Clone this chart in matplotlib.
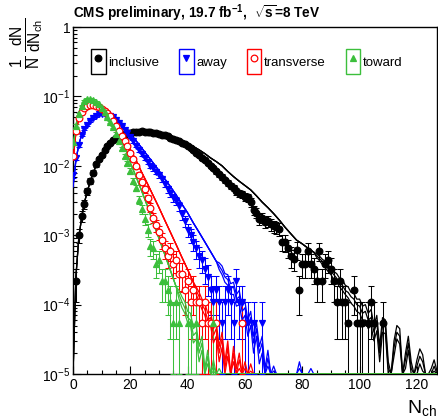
import numpy as np
import matplotlib
matplotlib.use("Agg")
import matplotlib.pyplot as plt
from matplotlib.patches import Rectangle
from matplotlib.lines import Line2D
from matplotlib.ticker import MultipleLocator, FixedLocator, FixedFormatter, LogLocator, NullFormatter

plt.rcParams['font.family'] = ['Liberation Sans', 'DejaVu Sans']
plt.rcParams['mathtext.fontset'] = 'custom'
plt.rcParams['mathtext.rm'] = 'Liberation Sans'
plt.rcParams['mathtext.it'] = 'Liberation Sans:italic'
plt.rcParams['mathtext.bf'] = 'Liberation Sans:bold'

# ---- data ----
# one event corresponds to ~5.5e-5 (lowest populated bins)
stat_unit = 5.5e-5

incl_n = list(range(1, 96)) + [96, 98, 99, 100, 101, 103, 104, 105, 108]
incl_y = [2.2e-4, 1.0e-3, 1.9e-3, 2.8e-3, 4.3e-3, 6.0e-3, 8.0e-3, 1.05e-2, 1.25e-2, 1.45e-2,
          1.7e-2, 1.95e-2, 2.15e-2, 2.35e-2, 2.5e-2, 2.65e-2, 2.75e-2, 2.85e-2, 2.95e-2, 3.0e-2,
          3.05e-2, 3.1e-2, 3.1e-2, 3.15e-2, 3.1e-2, 3.1e-2, 3.05e-2, 3.0e-2, 2.95e-2, 2.9e-2,
          2.8e-2, 2.75e-2, 2.65e-2, 2.55e-2, 2.45e-2, 2.35e-2, 2.25e-2, 2.15e-2, 2.05e-2, 1.95e-2,
          1.8e-2, 1.7e-2, 1.55e-2, 1.45e-2, 1.3e-2, 1.2e-2, 1.1e-2, 1.0e-2, 9.3e-3, 8.4e-3,
          7.6e-3, 6.9e-3, 6.2e-3, 5.6e-3, 5.2e-3, 4.8e-3, 4.3e-3, 4.0e-3, 3.9e-3, 3.6e-3,
          3.5e-3, 3.0e-3, 2.3e-3, 2.1e-3, 1.7e-3, 1.8e-3, 1.55e-3, 1.6e-3, 1.45e-3, 1.35e-3,
          1.3e-3, 1.25e-3, 8.1e-4, 7.9e-4, 6.6e-4, 5.0e-4, 4.6e-4, 6.2e-4, 1.65e-4, 3.9e-4,
          3.9e-4, 6.0e-4, 3.85e-4, 3.3e-4, 2.2e-4, 6.0e-4, 2.2e-4, 3.85e-4, 4.4e-4, 3.3e-4,
          2.2e-4, 1.1e-4, 2.2e-4, 1.1e-4, 1.1e-4,
          5.5e-5, 1.65e-4, 5.5e-5, 5.5e-5, 5.5e-5, 5.5e-5, 1.1e-4, 5.5e-5, 5.5e-5]

away_n = list(range(0, 62)) + [63, 66]
away_y = [7.4e-3, 1.3e-2, 2.0e-2, 2.8e-2, 3.4e-2, 3.9e-2, 4.4e-2, 4.9e-2, 5.2e-2, 5.5e-2,
          5.6e-2, 5.6e-2, 5.5e-2, 5.2e-2, 5.0e-2, 4.6e-2, 4.2e-2, 3.7e-2, 3.3e-2, 2.95e-2,
          2.6e-2, 2.25e-2, 1.95e-2, 1.7e-2, 1.5e-2, 1.3e-2, 1.15e-2, 1.0e-2, 9.2e-3, 8.2e-3,
          7.4e-3, 6.4e-3, 5.5e-3, 4.6e-3, 4.0e-3, 3.5e-3, 3.1e-3, 2.6e-3, 2.0e-3, 1.6e-3,
          1.2e-3, 1.0e-3, 8.0e-4, 6.5e-4, 5.0e-4, 4.4e-4, 3.3e-4, 2.5e-4, 1.65e-4, 1.1e-4,
          1.65e-4, 1.1e-4, 5.5e-5, 1.1e-4, 1.65e-4, 1.1e-4, 5.5e-5, 2.2e-4, 1.1e-4, 1.1e-4,
          5.5e-5, 5.5e-5, 5.5e-5, 5.5e-5]

trans_n = list(range(0, 49)) + [50, 59]
trans_y = [1.4e-2, 3.2e-2, 4.9e-2, 6.0e-2, 6.9e-2, 7.4e-2, 7.6e-2, 7.6e-2, 7.4e-2, 7.1e-2,
           6.7e-2, 6.2e-2, 5.7e-2, 5.2e-2, 4.5e-2, 3.8e-2, 3.2e-2, 2.7e-2, 2.3e-2, 1.9e-2,
           1.55e-2, 1.25e-2, 1.0e-2, 7.5e-3, 5.8e-3, 4.6e-3, 3.4e-3, 2.5e-3, 1.8e-3, 1.4e-3,
           1.1e-3, 8.5e-4, 6.5e-4, 5.0e-4, 6.0e-4, 3.9e-4, 4.4e-4, 2.75e-4, 2.8e-4, 1.65e-4,
           2.2e-4, 1.1e-4, 1.65e-4, 1.1e-4, 1.1e-4, 5.5e-5, 1.1e-4, 5.5e-5, 5.5e-5,
           5.5e-5, 5.5e-5]

tow_n = list(range(0, 38)) + [40, 41, 43, 49]
tow_y = [2.2e-2, 3.8e-2, 5.6e-2, 7.4e-2, 8.6e-2, 9.3e-2, 9.3e-2, 8.9e-2, 8.3e-2, 7.7e-2,
         6.9e-2, 6.0e-2, 5.1e-2, 4.3e-2, 3.6e-2, 2.9e-2, 2.3e-2, 1.8e-2, 1.4e-2, 1.1e-2,
         8.5e-3, 6.0e-3, 4.8e-3, 3.2e-3, 2.4e-3, 1.7e-3, 1.2e-3, 7.0e-4, 6.5e-4, 3.9e-4,
         4.4e-4, 2.2e-4, 2.2e-4, 1.65e-4, 1.1e-4, 5.5e-5, 1.1e-4, 5.5e-5,
         5.5e-5, 5.5e-5, 5.5e-5, 5.5e-5]

# ---- model curves (three generator tunes); common part + three tails ----
incl_mc_n = [0, 1, 2, 3, 4] + list(range(6, 85, 2))
incl_mc = [0, 2.5e-4, 9e-4, 1.8e-3, 3.0e-3, 6.0e-3, 1.0e-2, 1.45e-2, 1.9e-2, 2.3e-2,
           2.6e-2, 2.85e-2, 3.0e-2, 3.1e-2, 3.15e-2, 3.1e-2, 3.05e-2, 2.95e-2, 2.85e-2, 2.7e-2,
           2.5e-2, 2.3e-2, 2.1e-2, 1.9e-2, 1.7e-2, 1.5e-2, 1.3e-2, 1.15e-2, 1.0e-2, 8.3e-3,
           7.0e-3, 6.0e-3, 5.2e-3, 4.5e-3, 3.7e-3, 3.0e-3, 2.5e-3, 2.05e-3, 1.65e-3, 1.3e-3,
           1.05e-3, 8.5e-4, 7.5e-4, 6.5e-4, 5.7e-4]
incl_tail_n = list(range(85, 128))
incl_tail_a = [5.4e-4, 5.0e-4, 4.5e-4, 4.2e-4, 3.7e-4, 3.4e-4, 3.0e-4, 2.8e-4, 2.4e-4, 2.3e-4,
               1.9e-4, 1.8e-4, 1.5e-4, 1.45e-4, 1.2e-4, 1.2e-4, 9.5e-5, 1.0e-4, 7.5e-5, 8.5e-5,
               5e-5, 7e-5, 2.5e-5, 6.5e-5, 6e-5, 1.5e-5, 0, 3e-5, 5e-5, 4.5e-5,
               0, 2e-5, 3.5e-5, 1.5e-5, 0, 1.6e-5, 2.3e-5, 1.9e-5, 0, 0,
               1.2e-5, 1.6e-5, 1.1e-5]
incl_tail_b = [5.1e-4, 4.6e-4, 4.2e-4, 3.8e-4, 3.3e-4, 3.0e-4, 2.7e-4, 2.4e-4, 2.1e-4, 1.9e-4,
               1.6e-4, 1.5e-4, 1.3e-4, 1.2e-4, 1.0e-4, 9.5e-5, 7.5e-5, 8e-5, 6e-5, 6.5e-5,
               4e-5, 5.5e-5, 2e-5, 5e-5, 4.8e-5, 1.2e-5, 0, 2.4e-5, 4e-5, 3.5e-5,
               0, 1.6e-5, 2.8e-5, 1.2e-5, 0, 1.3e-5, 1.8e-5, 1.5e-5, 0, 0,
               0, 1.3e-5, 0]
incl_tail_c = [4.8e-4, 4.3e-4, 3.8e-4, 3.4e-4, 3.0e-4, 2.7e-4, 2.3e-4, 2.1e-4, 1.8e-4, 1.6e-4,
               1.4e-4, 1.25e-4, 1.05e-4, 9.5e-5, 8e-5, 7.5e-5, 6e-5, 6e-5, 4.5e-5, 5e-5,
               3e-5, 4.2e-5, 1.5e-5, 4e-5, 3.8e-5, 0, 0, 1.8e-5, 3.2e-5, 2.7e-5,
               0, 1.2e-5, 2.2e-5, 0, 0, 0, 1.4e-5, 1.1e-5, 0, 0,
               0, 1.1e-5, 0]

away_mc_n = [0, 1, 2, 3, 4] + list(range(6, 51, 2))
away_mc = [5e-3, 1.2e-2, 2.0e-2, 2.8e-2, 3.5e-2, 4.6e-2, 5.4e-2, 5.7e-2, 5.6e-2, 5.1e-2,
           4.4e-2, 3.6e-2, 2.9e-2, 2.3e-2, 1.8e-2, 1.4e-2, 1.1e-2, 8.5e-3, 6.5e-3, 5.0e-3,
           3.8e-3, 2.8e-3, 2.1e-3, 1.5e-3, 1.1e-3, 8e-4, 5.8e-4, 4.2e-4]
away_tail_n = list(range(51, 85)) + [127]
away_tail_a = [4.0e-4, 3.6e-4, 2.8e-4, 2.7e-4, 2.0e-4, 2.1e-4, 1.4e-4, 1.6e-4, 9.5e-5, 1.1e-4,
               6e-5, 8e-5, 3.5e-5, 5.5e-5, 2.5e-5, 3.5e-5, 1.2e-5, 2.2e-5, 0, 1.3e-5,
               0, 0, 0, 0, 0, 0, 0, 0, 1.5e-5, 0,
               0, 0, 1.2e-5, 0, 0]
away_tail_b = [3.6e-4, 3.1e-4, 2.5e-4, 2.3e-4, 1.7e-4, 1.8e-4, 1.2e-4, 1.3e-4, 8e-5, 9e-5,
               5e-5, 6.5e-5, 2.8e-5, 4.5e-5, 2e-5, 2.8e-5, 0, 1.7e-5, 0, 1.1e-5,
               0, 0, 0, 0, 0, 0, 0, 0, 1.2e-5, 0,
               0, 0, 0, 0, 0]
away_tail_c = [3.2e-4, 2.7e-4, 2.1e-4, 1.9e-4, 1.4e-4, 1.4e-4, 9.5e-5, 1.0e-4, 6e-5, 7e-5,
               3.5e-5, 5e-5, 2e-5, 3.5e-5, 1.4e-5, 2e-5, 0, 1.3e-5, 0, 0,
               0, 0, 0, 0, 0, 0, 0, 0, 0, 0,
               0, 0, 0, 0, 0]

trans_mc_n = list(range(0, 9)) + list(range(10, 43, 2))
trans_mc = [1.2e-2, 3.0e-2, 4.8e-2, 6.2e-2, 7.2e-2, 7.8e-2, 8.0e-2, 7.9e-2, 7.6e-2, 6.7e-2,
            5.6e-2, 4.4e-2, 3.3e-2, 2.4e-2, 1.7e-2, 1.2e-2, 8e-3, 5.5e-3, 3.7e-3, 2.5e-3,
            1.65e-3, 1.1e-3, 7.3e-4, 4.8e-4, 3.2e-4, 2.1e-4]
trans_tail_n = list(range(43, 64)) + [127]
trans_tail_a = [1.8e-4, 1.5e-4, 1.2e-4, 1.05e-4, 7.5e-5, 8e-5, 4.5e-5, 5.5e-5, 2.5e-5, 4e-5,
                1.5e-5, 3e-5, 0, 2.5e-5, 1.2e-5, 2e-5, 0, 1.5e-5, 0, 1.4e-5,
                0, 0]
trans_tail_b = [1.6e-4, 1.3e-4, 1.0e-4, 8.5e-5, 6e-5, 6.5e-5, 3.6e-5, 4.5e-5, 2e-5, 3.2e-5,
                1.2e-5, 2.4e-5, 0, 2e-5, 0, 1.6e-5, 0, 1.2e-5, 0, 1.1e-5,
                0, 0]
trans_tail_c = [1.4e-4, 1.1e-4, 8.5e-5, 7e-5, 5e-5, 5e-5, 2.8e-5, 3.5e-5, 1.5e-5, 2.4e-5,
                0, 1.8e-5, 0, 1.5e-5, 0, 1.2e-5, 0, 0, 0, 0,
                0, 0]

tow_mc_n = list(range(0, 9)) + list(range(10, 37, 2))
tow_mc = [1.8e-2, 3.8e-2, 5.8e-2, 7.5e-2, 8.7e-2, 9.2e-2, 9.2e-2, 8.8e-2, 8.2e-2, 6.8e-2,
          5.3e-2, 3.9e-2, 2.8e-2, 1.9e-2, 1.1e-2, 7.0e-3, 4.3e-3, 2.6e-3, 1.5e-3, 9e-4,
          5.3e-4, 3.1e-4, 1.8e-4]
tow_tail_n = list(range(37, 53)) + [127]
tow_tail_a = [1.6e-4, 1.3e-4, 1.1e-4, 8e-5, 7.5e-5, 4.5e-5, 5e-5, 2.5e-5, 3.5e-5, 1.2e-5,
              2.2e-5, 0, 1.6e-5, 0, 1.2e-5, 0, 0]
tow_tail_b = [1.4e-4, 1.1e-4, 9e-5, 6.5e-5, 6e-5, 3.6e-5, 4e-5, 2e-5, 2.8e-5, 0,
              1.8e-5, 0, 1.3e-5, 0, 0, 0, 0]
tow_tail_c = [1.2e-4, 9e-5, 7.5e-5, 5.5e-5, 5e-5, 2.8e-5, 3.2e-5, 1.5e-5, 2.2e-5, 0,
              1.4e-5, 0, 1.1e-5, 0, 0, 0, 0]

labels = ['inclusive', 'away', 'transverse', 'toward']
colors = ['black', '#0000ff', '#ff0000', '#3cbf3c']
markers = ['o', 'v', 'o', '^']
filled = [True, True, False, True]

series = [
    (incl_n, incl_y, incl_mc_n, incl_mc, incl_tail_n, [incl_tail_a, incl_tail_b, incl_tail_c]),
    (away_n, away_y, away_mc_n, away_mc, away_tail_n, [away_tail_a, away_tail_b, away_tail_c]),
    (trans_n, trans_y, trans_mc_n, trans_mc, trans_tail_n, [trans_tail_a, trans_tail_b, trans_tail_c]),
    (tow_n, tow_y, tow_mc_n, tow_mc, tow_tail_n, [tow_tail_a, tow_tail_b, tow_tail_c]),
]

ymin, ymax = 1e-5, 1.0

fig = plt.figure(figsize=(4.38, 4.19), dpi=100)
ax = fig.add_axes([0.1667, 0.1074, 0.831, 0.828])
ax.set_yscale('log')

for (dn, dy, mn, my, tn, tails), col, mk, fl in zip(series, colors, markers, filled):
    dy = np.array(dy)
    err = np.sqrt(dy * stat_unit)
    lo = np.minimum(err, dy - ymin * 0.999)
    ax.errorbar(dn, dy, yerr=[lo, err], fmt='none', ecolor=col, elinewidth=0.75,
                capsize=2.2, capthick=0.75, zorder=3)
    for t in tails:
        x = mn + tn
        y = np.maximum(np.array(my + t, dtype=float), ymin)
        ax.plot(x, y, color=col, lw=0.9, zorder=4)
    ax.plot(dn, dy, ls='none', marker=mk, markersize=4.8,
            markerfacecolor=col if fl else 'white', markeredgecolor=col,
            markeredgewidth=0.9, zorder=5)

ax.set_xlim(0, 127)
ax.set_ylim(ymin, ymax)

ax.xaxis.set_major_locator(MultipleLocator(20))
ax.xaxis.set_minor_locator(MultipleLocator(5))
ax.yaxis.set_major_locator(FixedLocator([1e-5, 1e-4, 1e-3, 1e-2, 1e-1, 1]))
ax.yaxis.set_major_formatter(FixedFormatter([r'$10^{-5}$', r'$10^{-4}$', r'$10^{-3}$',
                                             r'$10^{-2}$', r'$10^{-1}$', '1']))
ax.yaxis.set_minor_locator(LogLocator(base=10, subs=np.arange(2, 10)))
ax.yaxis.set_minor_formatter(NullFormatter())
ax.tick_params(which='both', direction='in', top=False, right=False, labelsize=10,
               width=0.8)
ax.tick_params(which='major', length=6)
ax.tick_params(which='minor', length=3)
ax.tick_params(axis='x', pad=3)
ax.tick_params(axis='y', pad=2)
for s in ax.spines.values():
    s.set_linewidth(1.0)

# legend: open box plus marker
handles = []
for col, mk, fl in zip(colors, markers, filled):
    box = Rectangle((0, 0), 1, 1, fill=False, edgecolor=col, lw=1.0)
    mark = Line2D([], [], ls='none', marker=mk, markersize=4.8,
                  markerfacecolor=col if fl else 'white', markeredgecolor=col,
                  markeredgewidth=0.9)
    handles.append((box, mark))
ax.legend(handles, labels, ncol=4, loc='center left', bbox_to_anchor=(0.05, 0.9),
          frameon=False, fontsize=9.5, handlelength=1.1, handleheight=2.5,
          handletextpad=0.2, columnspacing=1.5, borderpad=0, borderaxespad=0)

fig.text(0.166, 1 - 13 / 419,
         r'CMS preliminary, 19.7 fb$^{\mathbf{-1}}$,  $\sqrt{\mathbf{s}}$=8 TeV',
         fontsize=9.8, fontweight='bold', ha='left', va='center')
fig.text(27 / 438, 1 - 43 / 419,
         r'$\frac{1}{\mathrm{N}}\,\frac{\mathrm{dN}}{\mathrm{dN_{ch}}}$',
         fontsize=16, rotation=90, ha='center', va='center')
fig.text(0.997, 1 - 408 / 419, r'$\mathrm{N_{ch}}$', fontsize=14, ha='right', va='center')

fig.savefig('out.png', dpi=100)
